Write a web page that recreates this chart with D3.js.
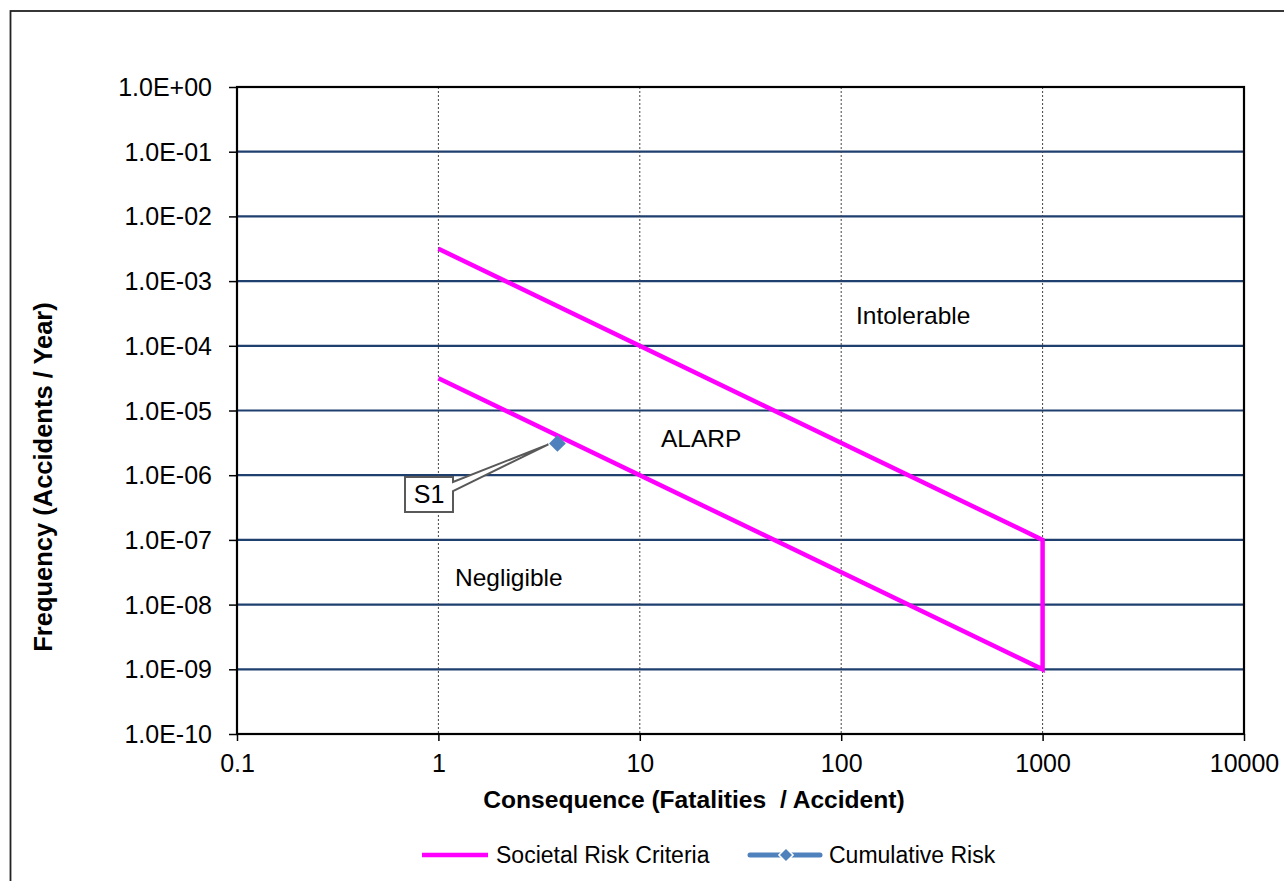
<!DOCTYPE html>
<html>
<head>
<meta charset="utf-8">
<script src="https://cdn.jsdelivr.net/npm/d3@7"></script>
<style>
  body { margin: 0; background: #fff; }
  svg { display: block; font-family: Arial, "Liberation Sans", sans-serif; }
</style>
</head>
<body>
<svg id="chart" width="1284" height="881"></svg>
<script>
// values
const xTicks = [0.1, 1, 10, 100, 1000, 10000];
const yTicks = [1, 1e-1, 1e-2, 1e-3, 1e-4, 1e-5, 1e-6, 1e-7, 1e-8, 1e-9, 1e-10];
const gridX = [1, 10, 100, 1000];

// societal risk criteria envelope (upper line, drop at 1000, lower line)
const criteriaN = [1, 1000, 1000, 1];
const criteriaF = [3.16e-3, 1e-7, 1e-9, 3.16e-5];

// cumulative risk point
const riskN = [3.9];
const riskF = [3.1e-6];
const riskLabels = ["S1"];

const regionLabels = ["Intolerable", "ALARP", "Negligible"];
const legendNames = ["Societal Risk Criteria", "Cumulative Risk"];

const magenta = "#FF00FF";
const blue = "#4F81BD";

const svg = d3.select("#chart");

// outer chart frame (runs off the right/bottom edge in the shot)
svg.append("rect")
  .attr("x", 10.5).attr("y", 11)
  .attr("width", 1300).attr("height", 900)
  .attr("fill", "none").attr("stroke", "#222").attr("stroke-width", 1.8);

const pLeft = 237, pRight = 1244, pTop = 87, pBottom = 734;

const x = d3.scaleLog().domain([0.1, 10000]).range([pLeft, pRight]);
const y = d3.scaleLog().domain([1e-10, 1]).range([pBottom, pTop]);

// horizontal grid
svg.append("g").selectAll("line")
  .data(yTicks.filter(d => d < 1 && d > 1e-10))
  .join("line")
  .attr("x1", pLeft).attr("x2", pRight)
  .attr("y1", d => y(d)).attr("y2", d => y(d))
  .attr("stroke", "#1F3F6E").attr("stroke-width", 2.2);

// vertical dotted grid
svg.append("g").selectAll("line")
  .data(gridX)
  .join("line")
  .attr("x1", d => x(d)).attr("x2", d => x(d))
  .attr("y1", pTop).attr("y2", pBottom)
  .attr("stroke", "#444").attr("stroke-width", 1)
  .attr("stroke-dasharray", "2,2");

// axes
const fmtE = d => {
  const e = Math.round(Math.log10(d));
  return "1.0E" + (e < 0 ? "-" : "+") + String(Math.abs(e)).padStart(2, "0");
};

const xAxis = svg.append("g")
  .attr("transform", "translate(0," + pBottom + ")")
  .call(d3.axisBottom(x).tickValues(xTicks).tickFormat(d => String(d)).tickSize(7).tickPadding(13));
const yAxis = svg.append("g")
  .attr("transform", "translate(" + pLeft + ",0)")
  .call(d3.axisLeft(y).tickValues(yTicks).tickFormat(fmtE).tickSize(8).tickPadding(17));

[xAxis, yAxis].forEach(g => {
  g.select(".domain").remove();
  g.selectAll(".tick line").attr("stroke", "#000").attr("stroke-width", 1.5);
  g.selectAll("text").attr("font-size", 25).attr("fill", "#000")
    .attr("font-family", "Arial, 'Liberation Sans', sans-serif");
});
yAxis.selectAll("text").attr("dy", "0.34em");

// plot area border
svg.append("rect")
  .attr("x", pLeft).attr("y", pTop)
  .attr("width", pRight - pLeft).attr("height", pBottom - pTop)
  .attr("fill", "none").attr("stroke", "#000").attr("stroke-width", 2.2);

// criteria line
const line = d3.line().x(d => x(d[0])).y(d => y(d[1]));
svg.append("path")
  .datum(d3.zip(criteriaN, criteriaF))
  .attr("d", line)
  .attr("fill", "none").attr("stroke", magenta)
  .attr("stroke-width", 4.5).attr("stroke-linejoin", "miter");

// region labels
const regionPos = [[856, 324], [661, 447], [455, 586]];
svg.append("g").selectAll("text")
  .data(regionLabels)
  .join("text")
  .attr("x", (d, i) => regionPos[i][0]).attr("y", (d, i) => regionPos[i][1])
  .attr("font-size", 24.5).attr("fill", "#000")
  .text(d => d);

// callout for the risk point
const pts = d3.zip(riskN, riskF);
pts.forEach((p, i) => {
  const px = x(p[0]), py = y(p[1]);
  const bx0 = 405, bx1 = 453, by0 = 477, by1 = 512;
  const path = d3.path();
  path.moveTo(bx0, by0);
  path.lineTo(bx1, by0);
  path.lineTo(bx1, 482);
  path.lineTo(px - 9, py + 1);
  path.lineTo(bx1, 491);
  path.lineTo(bx1, by1);
  path.lineTo(bx0, by1);
  path.closePath();
  svg.append("path").attr("d", path.toString())
    .attr("fill", "#fff").attr("stroke", "#595959").attr("stroke-width", 2)
    .attr("stroke-linejoin", "miter");
  svg.append("text")
    .attr("x", (bx0 + bx1) / 2).attr("y", 503)
    .attr("text-anchor", "middle").attr("font-size", 25).attr("fill", "#000")
    .text(riskLabels[i]);
});

// risk points
svg.append("g").selectAll("path")
  .data(pts)
  .join("path")
  .attr("transform", d => "translate(" + x(d[0]) + "," + y(d[1]) + ") rotate(45)")
  .attr("d", d3.symbol(d3.symbolSquare, 140)())
  .attr("fill", blue);

// axis titles
svg.append("text")
  .attr("x", 694).attr("y", 808)
  .attr("text-anchor", "middle").attr("font-size", 24.6).attr("font-weight", "bold")
  .style("white-space", "pre")
  .text("Consequence (Fatalities  / Accident)");
svg.append("text")
  .attr("transform", "translate(52," + 477 + ") rotate(-90)")
  .attr("text-anchor", "middle").attr("font-size", 25.5).attr("font-weight", "bold")
  .text("Frequency (Accidents / Year)");

// legend
const lg = svg.append("g");
lg.append("line").attr("x1", 422).attr("x2", 488).attr("y1", 855).attr("y2", 855)
  .attr("stroke", magenta).attr("stroke-width", 4.5);
lg.append("text").attr("x", 496).attr("y", 863).attr("font-size", 23).text(legendNames[0]);
lg.append("line").attr("x1", 750).attr("x2", 820).attr("y1", 855).attr("y2", 855)
  .attr("stroke", blue).attr("stroke-width", 5).attr("stroke-linecap", "round");
lg.append("path")
  .attr("transform", "translate(786,855) rotate(45)")
  .attr("d", d3.symbol(d3.symbolSquare, 100)())
  .attr("fill", blue).attr("stroke", "#fff").attr("stroke-width", 1.5);
lg.append("text").attr("x", 829).attr("y", 863).attr("font-size", 23).text(legendNames[1]);
</script>
</body>
</html>
